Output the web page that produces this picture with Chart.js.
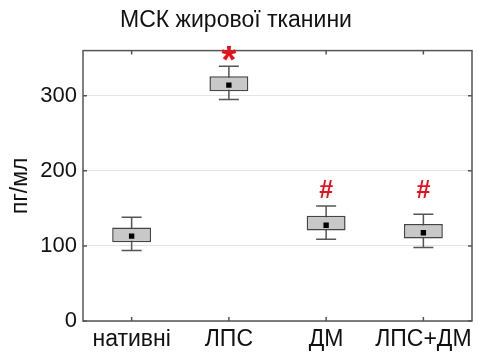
<!DOCTYPE html>
<html>
<head>
<meta charset="utf-8">
<script src="https://cdn.jsdelivr.net/npm/chart.js@4.4.0/dist/chart.umd.min.js"></script>
<style>
  html, body { margin: 0; padding: 0; background: #fff; }
  #wrap { width: 478px; height: 359px; }
</style>
</head>
<body>
<div id="wrap"><canvas id="box"></canvas></div>
<script>
var groups = ['нативні', 'ЛПС', 'ДМ', 'ЛПС+ДМ'];
var whiskerLow = [94, 295, 109, 98];
var boxLow = [105, 306, 120.5, 110];
var means = [113, 314, 127.5, 117.5];
var boxHigh = [124.5, 326, 140, 129];
var whiskerHigh = [138, 339, 153, 142];
var marks = ['', '*', '#', '#'];
var markAt = [null, 356, 173, 173];
var yTicks = [0, 100, 200, 300];

var font = 'Arial, "Liberation Sans", sans-serif';

// whiskers, frame, small ticks and the significance marks
var boxExtras = {
    id: 'boxExtras',
    beforeDatasetsDraw: function(chart) {
        var ctx = chart.ctx;
        var x = chart.scales.x, y = chart.scales.y;
        ctx.save();
        ctx.strokeStyle = '#555';
        ctx.lineWidth = 1.5;
        for (var i = 0; i < groups.length; i++) {
            var cx = x.getPixelForValue(i);
            var lo = y.getPixelForValue(whiskerLow[i]);
            var hi = y.getPixelForValue(whiskerHigh[i]);
            ctx.beginPath();
            ctx.moveTo(cx, lo); ctx.lineTo(cx, hi);
            ctx.moveTo(cx - 10, lo); ctx.lineTo(cx + 10, lo);
            ctx.moveTo(cx - 10, hi); ctx.lineTo(cx + 10, hi);
            ctx.stroke();
        }
        ctx.restore();
    },
    afterDraw: function(chart) {
        var ctx = chart.ctx;
        var a = chart.chartArea;
        var x = chart.scales.x, y = chart.scales.y;
        ctx.save();
        ctx.strokeStyle = '#555';
        ctx.lineWidth = 1.5;
        ctx.strokeRect(a.left, a.top, a.right - a.left, a.bottom - a.top);
        ctx.beginPath();
        for (var i = 0; i < groups.length; i++) {
            var cx = x.getPixelForValue(i);
            ctx.moveTo(cx, a.bottom); ctx.lineTo(cx, a.bottom - 4);
            ctx.moveTo(cx, a.top); ctx.lineTo(cx, a.top + 4);
        }
        yTicks.forEach(function(v) {
            var py = y.getPixelForValue(v);
            ctx.moveTo(a.left, py); ctx.lineTo(a.left + 4, py);
            ctx.moveTo(a.right, py); ctx.lineTo(a.right - 4, py);
        });
        ctx.stroke();

        ctx.fillStyle = '#e8101a';
        ctx.textAlign = 'center';
        ctx.textBaseline = 'middle';
        for (var j = 0; j < groups.length; j++) {
            if (!marks[j]) continue;
            var px = x.getPixelForValue(j);
            var py = y.getPixelForValue(markAt[j]);
            if (marks[j] === '*') {
                ctx.font = 'bold 38px ' + font;
                ctx.fillText(marks[j], px, py + 9);
            } else {
                ctx.font = 'bold 25px ' + font;
                ctx.fillText(marks[j], px, py);
            }
        }
        ctx.restore();
    }
};

var config = {
    data: {
        labels: groups,
        datasets: [{
            type: 'bar',
            label: 'box',
            data: groups.map(function(g, i) { return [boxLow[i], boxHigh[i]]; }),
            backgroundColor: '#c8c8c8',
            borderColor: '#444',
            borderWidth: 1.5,
            borderSkipped: false,
            barPercentage: 0.4,
            categoryPercentage: 1,
            grouped: false,
            order: 2
        }, {
            type: 'line',
            label: 'mean',
            data: means,
            showLine: false,
            pointStyle: 'rect',
            pointRadius: 3.8,
            pointBackgroundColor: '#000',
            pointBorderColor: '#000',
            pointBorderWidth: 0,
            order: 1
        }]
    },
    options: {
        responsive: true,
        maintainAspectRatio: false,
        animation: false,
        layout: {
            padding: { left: 0, right: 6, top: 0, bottom: 0 }
        },
        plugins: {
            legend: { display: false },
            tooltip: { enabled: false },
            title: {
                display: true,
                text: 'МСК жирової тканини',
                color: '#111',
                font: { family: font, size: 23, weight: 'normal' },
                padding: { top: 7, bottom: 16 }
            }
        },
        scales: {
            x: {
                grid: { display: false, drawTicks: false },
                border: { display: false },
                ticks: {
                    color: '#111',
                    padding: 5,
                    maxRotation: 0,
                    minRotation: 0,
                    autoSkip: false,
                    font: { family: font, size: 23 }
                },
                afterFit: function(scale) { scale.height = 38; }
            },
            y: {
                min: 0,
                max: 360,
                grid: { color: '#e4e4e4', drawTicks: false },
                border: { display: false },
                ticks: {
                    color: '#111',
                    padding: 6,
                    font: { family: font, size: 22 }
                },
                afterBuildTicks: function(scale) {
                    scale.ticks = yTicks.map(function(v) { return { value: v }; });
                },
                title: {
                    display: true,
                    text: 'пг/мл',
                    color: '#111',
                    font: { family: font, size: 23 },
                    padding: { top: 7, bottom: 0 }
                },
                afterFit: function(scale) { scale.width = 83; }
            }
        }
    },
    plugins: [boxExtras]
};

window.onload = function() {
    var ctx = document.getElementById('box').getContext('2d');
    window.boxChart = new Chart(ctx, config);
};
</script>
</body>
</html>
